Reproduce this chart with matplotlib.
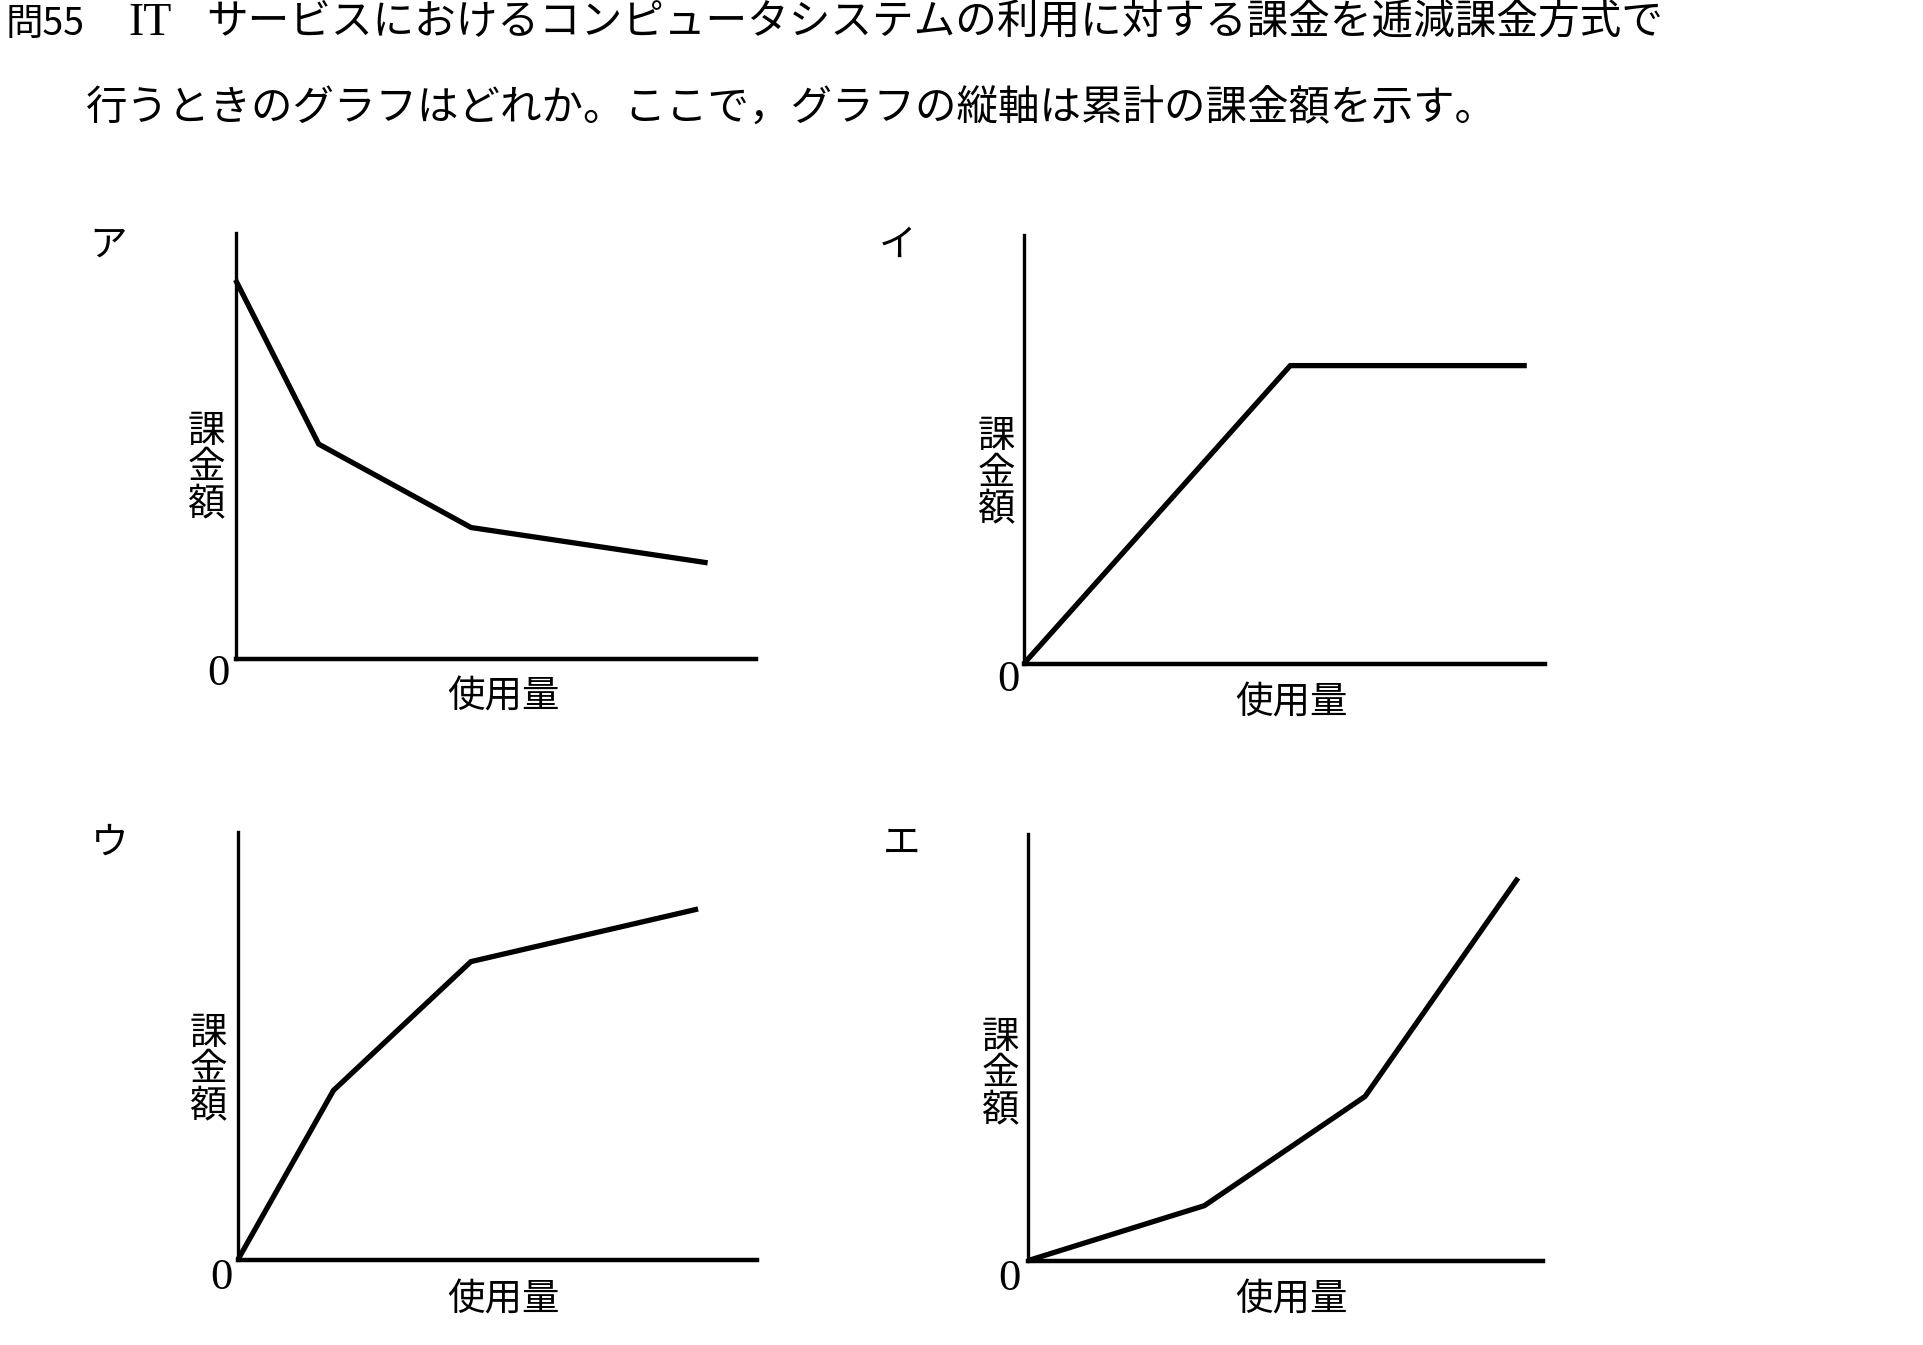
import matplotlib
matplotlib.use("Agg")
import matplotlib.pyplot as plt

plt.rcParams['font.family'] = ['Noto Sans CJK JP', 'DejaVu Sans']

# question text
q_no = "問55"
q_it = "IT"
q_line1 = "サービスにおけるコンピュータシステムの利用に対する課金を逓減課金方式で"
q_line2 = "行うときのグラフはどれか。ここで，グラフの縦軸は累計の課金額を示す。"

# panels (usage 0-10 on x, cumulative charge 0-10 on y)
labels = ["ア", "イ", "ウ", "エ"]
usage_a = [0, 1.6, 4.53, 9.08]
charge_a = [8.9, 5.04, 3.08, 2.25]
usage_i = [0, 5.11, 9.65]
charge_i = [0, 6.96, 6.96]
usage_u = [0, 1.84, 4.49, 8.87]
charge_u = [0, 3.95, 6.96, 8.19]
usage_e = [0, 3.43, 6.55, 9.52]
charge_e = [0, 1.29, 3.85, 8.97]
ylabel = "課金額"
xlabel = "使用量"

W, H = 1923, 1345
fig = plt.figure(figsize=(W / 100, H / 100), dpi=100)
fig.patch.set_facecolor("white")

def px(x, y):
    return x / W, 1 - y / H

# title
fig.text(*px(6, 24), q_no, fontsize=27, ha="left", va="center")
fig.text(*px(128, 24), q_it, fontsize=33, ha="left", va="center",
         family="Liberation Serif")
fig.text(*px(206, 22), q_line1, fontsize=30, ha="left", va="center")
fig.text(*px(86, 108), q_line2, fontsize=29.9, ha="left", va="center")

# axes box in pixels: left, top, right, bottom
boxes = [(235.5, 233, 755.5, 658.6),
         (1024, 235.5, 1545, 663.5),
         (238, 831.5, 756.7, 1259.5),
         (1027.7, 834, 1542.8, 1260.7)]
series = [(usage_a, charge_a), (usage_i, charge_i),
          (usage_u, charge_u), (usage_e, charge_e)]
label_pos = [(108, 245), (898, 245), (110, 843), (902, 843)]
ylab_pos = [(206, 468), (996, 473), (208, 1070), (1000, 1074)]
zero_pos = [(218, 674), (1008, 680), (221, 1278), (1009, 1279)]
xlab_pos = [(503, 697), (1291, 703), (503, 1300), (1291, 1300)]

for i in range(4):
    l, t, r, b = boxes[i]
    ax = fig.add_axes([l / W, 1 - b / H, (r - l) / W, (b - t) / H])
    ax.plot(series[i][0], series[i][1], color="black", lw=3.8,
            solid_joinstyle="miter", solid_capstyle="butt", clip_on=False)
    ax.set_xlim(0, 10)
    ax.set_ylim(0, 10)
    for s in ["top", "right"]:
        ax.spines[s].set_visible(False)
    ax.spines["left"].set_linewidth(2.4)
    ax.spines["bottom"].set_linewidth(3.2)
    ax.set_xticks([])
    ax.set_yticks([])
    ax.patch.set_alpha(0)

    fig.text(*px(*label_pos[i]), labels[i], fontsize=27, ha="center", va="center")
    fig.text(*px(*ylab_pos[i]), "\n".join(ylabel), fontsize=27, ha="center",
             va="center", linespacing=0.92)
    fig.text(*px(*zero_pos[i]), "0", fontsize=32, ha="center", va="center",
             family="Liberation Serif")
    fig.text(*px(*xlab_pos[i]), xlabel, fontsize=27, ha="center", va="center")

fig.savefig("out.png", dpi=100, facecolor="white")
